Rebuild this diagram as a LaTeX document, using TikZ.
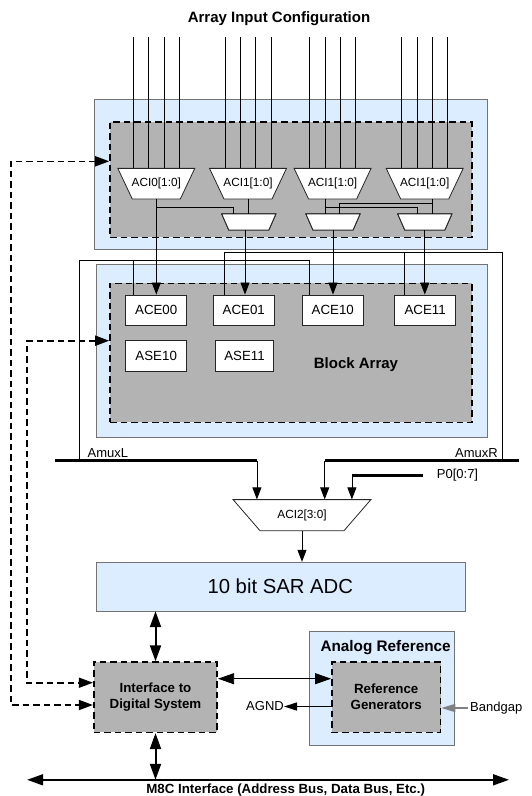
\documentclass[tikz,border=0pt]{standalone}
\usepackage{fontspec}
\setmainfont{Liberation Sans}
\usepackage{tikz}
\usetikzlibrary{arrows.meta,fit,calc}

\definecolor{panelblue}{RGB}{220,237,255}
\definecolor{coregray}{RGB}{179,179,179}

\tikzset{
    panel/.style={draw=black!55,fill=panelblue,inner sep=0pt},
    core/.style={draw=black,fill=coregray,line width=1.6pt,dash pattern=on 6.5pt off 4pt,inner sep=0pt},
    cell/.style={draw=black!85,fill=white,line width=0.8pt,minimum width=61pt,minimum height=30.7pt,inner sep=0pt,font=\fontsize{13.3}{15}\selectfont},
    muxline/.style={draw=black!85,fill=white,line width=0.8pt,line join=miter},
    muxlabel/.style={inner sep=0pt,font=\fontsize{11.8}{13}\selectfont},
    wire/.style={line width=0.8pt},
    tip/.style={-{Triangle[length=12pt,width=9pt]}},
    bus/.style={line width=2.8pt},
    ctrl/.style={line width=1.6pt,dash pattern=on 6.5pt off 4pt,{Triangle[length=14pt,width=10pt]}-{Triangle[length=14pt,width=10pt]}},
    both/.style={{Triangle[length=16pt,width=11pt]}-{Triangle[length=16pt,width=11pt]}},
    lbl/.style={inner sep=0pt,font=\fontsize{13}{15}\selectfont},
    hdr/.style={inner sep=0pt,align=center,font=\bfseries\fontsize{13.3}{16}\selectfont},
}

% name, x, y, top width, height, slant, text
\newcommand{\muxat}[7]{%
    \draw[muxline] ({#2-#4/2},{#3-#5/2}) -- ({#2+#4/2},{#3-#5/2}) -- ({#2+#4/2-#6},{#3+#5/2}) -- ({#2-#4/2+#6},{#3+#5/2}) -- cycle;
    \node[muxlabel,minimum width=#4pt,minimum height=#5pt] (#1) at (#2,#3) {#7};
}

\begin{document}
\begin{tikzpicture}[x=1pt,y=-1pt]
    \useasboundingbox (0,0) rectangle (532,796);
    \node[hdr,font=\bfseries\fontsize{15}{18}\selectfont] (title) at (279,18.5) {Array Input Configuration};
    \node[panel,fit={(94,98.7) (486.7,249.3)}] (inPanel) {};
    \node[core,fit={(110,121.7) (471.7,237.3)}] (inCore) {};
    \node[panel,fit={(96,264) (486.7,436.7)}] (blkPanel) {};
    \node[core,fit={(110,283.3) (471.7,422.3)}] (blkCore) {};
    \foreach \mx/\x/\txt in {m1/156.3/ACI0[1:0],m2/248/ACI1[1:0],m3/332.6/ACI1[1:0],m4/424.7/ACI1[1:0]}
        \muxat{\mx}{\x}{183.7}{77}{30.7}{14.5}{\txt}
    \foreach \mx/\x in {s1/248.8,s2/333,s3/424.8}
        \muxat{\mx}{\x}{222}{54}{16}{7}{}
    \foreach \cx/\x/\y/\txt in {ace00/156.2/310.3/ACE00,ace01/243.8/310.3/ACE01,ace10/332.8/310.3/ACE10,ace11/425.2/310.3/ACE11,ase10/156.2/356.2/ASE10}
        \node[cell] (\cx) at (\x,\y) {\txt};
    \node[cell,minimum width=57.6pt] (ase11) at (244.5,356.2) {ASE11};
    \node[hdr,font=\bfseries\fontsize{15}{18}\selectfont] (blkName) at (356,365) {Block Array};
    \foreach \mx in {m1,m2,m3,m4}
        \foreach \k in {-23,-7.7,7.7,23}
            \draw[wire] ([xshift=\k]\mx.north) -- ++(0,-131.6);
    \draw[wire,tip] (m1.south) -- (m1.south |- ace00.north);
    \draw[wire] (m1.south) ++(0,7.7) -| ([xshift=-15.8]s1.north);
    \draw[wire] (m2.south) -- (m2.south |- s1.north);
    \draw[wire,tip] ([xshift=-3.8]s1.south) -- ([xshift=-3.8]s1.south |- ace01.north);
    \draw[wire] ([xshift=-7.6]m3.south) -- ([xshift=-7.6]m3.south |- s2.north);
    \draw[wire] ([xshift=-7.6]m3.south) ++(0,8.3) -| ([xshift=-7.1]s3.north);
    \draw[wire] ([xshift=8]m4.south) -- ([xshift=8]m4.south |- s3.north);
    \draw[wire] ([xshift=8]m4.south) ++(0,3.7) -| ([xshift=6.3]s2.north);
    \draw[wire,tip] (s2.south) -- (s2.south |- ace10.north);
    \draw[wire,tip] (s3.south) -- (s3.south |- ace11.north);
    \coordinate (amuxL) at (79.5,460.5);
    \coordinate (amuxR) at (502,460.5);
    \coordinate (loopL) at (79.5,260.7);
    \coordinate (loopR) at (502,252.7);
    \draw[wire] (amuxL) -- (loopL) -| ([xshift=-23.5]ace10.north);
    \draw[wire] ([xshift=-22.9]ace00.north) -- ([xshift=-22.9]ace00.north |- loopL);
    \draw[wire] (amuxR) -- (loopR) -| ([xshift=-19.8]ace01.north);
    \draw[wire] ([xshift=-21.2]ace11.north) -- ([xshift=-21.2]ace11.north |- loopR);
    \node[lbl,anchor=west] (amuxLName) at (87.5,453.5) {AmuxL};
    \node[lbl,anchor=east] (amuxRName) at (498,453.5) {AmuxR};
    \node[lbl,anchor=west] (p0Name) at (436.7,475.5) {P0[0:7]};
    \muxat{aci2}{302}{515.2}{137.8}{31.2}{27}{ACI2[3:0]}
    \coordinate (busL) at (55.3,460.5);
    \coordinate (busR) at (519.2,460.5);
    \draw[bus] (busL) -- ([xshift=-45.1]aci2.north |- busL);
    \draw[wire,tip] ([xshift=-45.1]aci2.north |- busL) -- ([xshift=-45.1]aci2.north);
    \draw[bus] (busR) -- ([xshift=22.7]aci2.north |- busR);
    \draw[wire,tip] ([xshift=22.7]aci2.north |- busR) -- ([xshift=22.7]aci2.north);
    \draw[bus] ([xshift=-14.2]p0Name.west) -- ([xshift=49.9]aci2.north |- p0Name.west);
    \draw[wire,tip] ([xshift=49.9]aci2.north |- p0Name.west) -- ([xshift=49.9]aci2.north);
    \node[panel,minimum width=369.2pt,minimum height=49pt,font=\fontsize{20.3}{24}\selectfont] (adc) at (280.3,586.5) {10 bit SAR ADC};
    \draw[wire,tip] (aci2.south) -- (aci2.south |- adc.north);
    \node[core,minimum width=123.5pt,minimum height=70.2pt,align=center,font=\bfseries\fontsize{13.3}{16}\selectfont] (iface) at (155.5,697.2) {Interface to\\Digital System};
    \node[panel,fit={(308.8,631.2) (453.7,744.9)}] (refPanel) {};
    \node[hdr,font=\bfseries\fontsize{15.3}{18}\selectfont] (refName) at (385.6,647.5) {Analog Reference};
    \node[core,minimum width=108.6pt,minimum height=70.2pt,align=center,font=\bfseries\fontsize{13.3}{16}\selectfont] (refgen) at (386.2,697.2) {Reference\\Generators};
    \draw[both,line width=2pt] (adc.south -| iface.north) -- (iface.north);
    \coordinate (m8cL) at (27.1,779.8);
    \coordinate (m8cR) at (509,779.8);
    \draw[both,line width=1.7pt] (m8cL) -- (m8cR);
    \draw[both,line width=2pt] (iface.south) -- (iface.south |- m8cL);
    \node[hdr] (m8cName) at (285.7,790) {M8C Interface (Address Bus, Data Bus, Etc.)};
    \draw[both,wire] ([yshift=18.5]iface.east) -- ([yshift=18.5]iface.east -| refgen.west);
    \node[lbl,anchor=east] (agnd) at (284,706.5) {AGND};
    \draw[line width=1.6pt,-{Triangle[length=13pt,width=8pt]}] (refgen.west |- agnd.east) -- (agnd.east);
    \node[lbl,anchor=west] (bgap) at (470,708) {Bandgap};
    \draw[gray,line width=1.6pt,-{Triangle[length=14pt,width=8pt]}] ([xshift=-2]bgap.west) -- (bgap.west -| refgen.east);
    \coordinate (ctlOut) at (10.7,161.3);
    \coordinate (ctlIn) at (27,340.7);
    \draw[ctrl] (inCore.west |- ctlOut) -- (ctlOut) |- ([yshift=-7.8]iface.west);
    \draw[ctrl] (blkCore.west |- ctlIn) -- (ctlIn) |- ([yshift=14.5]iface.west);
\end{tikzpicture}
\end{document}
